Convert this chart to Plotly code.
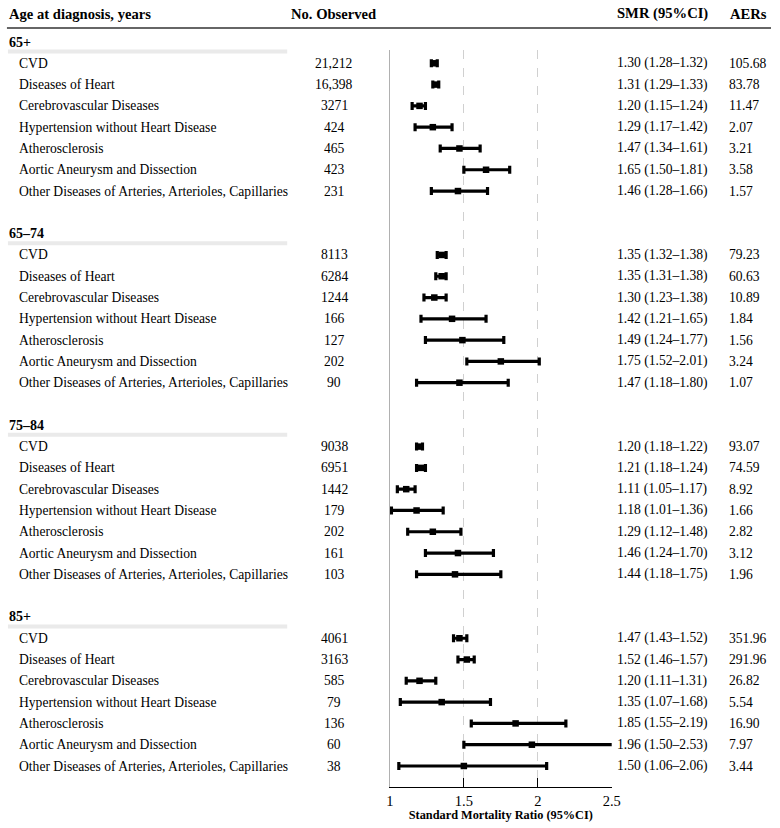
import plotly.graph_objects as go

groups = ["65+", "65–74", "75–84", "85+"]
causes = ["CVD", "Diseases of Heart", "Cerebrovascular Diseases",
          "Hypertension without Heart Disease", "Atherosclerosis",
          "Aortic Aneurysm and Dissection",
          "Other Diseases of Arteries, Arterioles, Capillaries"]
observed = [[21212, 16398, 3271, 424, 465, 423, 231],
            [8113, 6284, 1244, 166, 127, 202, 90],
            [9038, 6951, 1442, 179, 202, 161, 103],
            [4061, 3163, 585, 79, 136, 60, 38]]
smr = [[1.30, 1.31, 1.20, 1.29, 1.47, 1.65, 1.46],
       [1.35, 1.35, 1.30, 1.42, 1.49, 1.75, 1.47],
       [1.20, 1.21, 1.11, 1.18, 1.29, 1.46, 1.44],
       [1.47, 1.52, 1.20, 1.35, 1.85, 1.96, 1.50]]
ci_low = [[1.28, 1.29, 1.15, 1.17, 1.34, 1.50, 1.28],
          [1.32, 1.31, 1.23, 1.21, 1.24, 1.52, 1.18],
          [1.18, 1.18, 1.05, 1.01, 1.12, 1.24, 1.18],
          [1.43, 1.46, 1.11, 1.07, 1.55, 1.50, 1.06]]
ci_high = [[1.32, 1.33, 1.24, 1.42, 1.61, 1.81, 1.66],
           [1.38, 1.38, 1.38, 1.65, 1.77, 2.01, 1.80],
           [1.22, 1.24, 1.17, 1.36, 1.48, 1.70, 1.75],
           [1.52, 1.57, 1.31, 1.68, 2.19, 2.53, 2.06]]
aers = [["105.68", "83.78", "11.47", "2.07", "3.21", "3.58", "1.57"],
        ["79.23", "60.63", "10.89", "1.84", "1.56", "3.24", "1.07"],
        ["93.07", "74.59", "8.92", "1.66", "2.82", "3.12", "1.96"],
        ["351.96", "291.96", "26.82", "5.54", "16.90", "7.97", "3.44"]]
x_ticks = [1, 1.5, 2, 2.5]
x_tick_labels = ["1", "1.5", "2", "2.5"]

W, H = 780, 828
FONT = "Liberation Serif"
FS = 13.6
FSH = 14.6

ROW0, ROWH = 42, 21.294


def px(xp):
    return xp / W


def py(yp):
    return 1 - yp / H


def row_py(r):
    return py(ROW0 + ROWH * r)


xs, ys, eplus, eminus = [], [], [], []
annotations = []
shapes = []

for g, grp in enumerate(groups):
    hrow = 9 * g
    annotations.append(dict(x=px(3), y=row_py(hrow), xref="paper", yref="paper",
                            text=f"<b>{grp}</b>", showarrow=False, xanchor="left",
                            yanchor="middle", font=dict(family=FONT, size=14, color="black")))
    yb = ROW0 + ROWH * hrow + 9.5
    shapes.append(dict(type="rect", xref="paper", yref="paper", x0=px(4), x1=px(288),
                       y0=py(yb - 2), y1=py(yb + 2), fillcolor="#eaeaea",
                       line=dict(width=0), layer="below"))
    for i, c in enumerate(causes):
        r = hrow + 1 + i
        s, lo, hi = smr[g][i], ci_low[g][i], ci_high[g][i]
        xs.append(s)
        ys.append(r)
        eplus.append(hi - s)
        eminus.append(s - lo)
        n = observed[g][i]
        ntxt = f"{n:,}" if n >= 10000 else str(n)
        for xx, txt, anc in [(13, c, "left"), (336, ntxt, "center"),
                             (621, f"{s:.2f} ({lo:.2f}–{hi:.2f})", "left"),
                             (735, aers[g][i], "left")]:
            annotations.append(dict(x=px(xx), y=r, xref="paper", yref="y", text=txt,
                                    showarrow=False, xanchor=anc, yanchor="middle",
                                    font=dict(family=FONT, size=FS, color="black")))

# header
for xx, txt in [(3, "Age at diagnosis, years"), (290, "No. Observed"),
                (621, "SMR (95%CI)"), (736, "AERs")]:
    annotations.append(dict(x=px(xx), y=py(14), xref="paper", yref="paper", text=f"<b>{txt}</b>",
                            showarrow=False, xanchor="left", yanchor="middle",
                            font=dict(family=FONT, size=FSH, color="black")))

shapes.append(dict(type="line", xref="paper", yref="paper", x0=px(3), x1=px(780),
                   y0=py(28), y1=py(28), line=dict(color="#333333", width=1.5)))

fig = go.Figure()
fig.add_trace(go.Scatter(
    x=xs, y=ys, mode="markers",
    marker=dict(symbol="square", size=6.5, color="black"),
    error_x=dict(type="data", array=eplus, arrayminus=eminus, symmetric=False,
                 color="black", thickness=3.2, width=4),
    cliponaxis=False, showlegend=False, hoverinfo="skip"))

y_top, y_bot = 50, 787
r_top = (y_top - ROW0) / ROWH
r_bot = (y_bot - ROW0) / ROWH

fig.update_layout(
    width=W, height=H,
    margin=dict(l=0, r=0, t=0, b=0),
    paper_bgcolor="white", plot_bgcolor="white",
    font=dict(family=FONT, size=FS, color="black"),
    xaxis=dict(domain=[px(392.5), px(618)], range=[1, 2.5], tickvals=x_ticks,
               ticktext=x_tick_labels, showgrid=True, gridcolor="#d0d0d0", griddash="dash",
               gridwidth=1, zeroline=False, showline=True, linecolor="black", linewidth=1.2,
               ticks="inside", ticklen=9, tickcolor="black", tickwidth=1.2,
               tickfont=dict(family=FONT, size=14.5, color="black"),
               title=dict(text="<b>Standard Mortality Ratio (95%CI)</b>",
                          font=dict(family=FONT, size=12.3, color="black"), standoff=1)),
    yaxis=dict(domain=[py(y_bot), py(y_top)], range=[r_bot, r_top], showgrid=False,
               zeroline=False, showticklabels=False, ticks="", showline=True,
               linecolor="#b0b0b0", linewidth=1),
    annotations=annotations, shapes=shapes,
)

fig.write_html("out.html", config={"displayModeBar": False},
               post_script="document.body.style.margin='0';document.body.style.overflow='hidden';")
